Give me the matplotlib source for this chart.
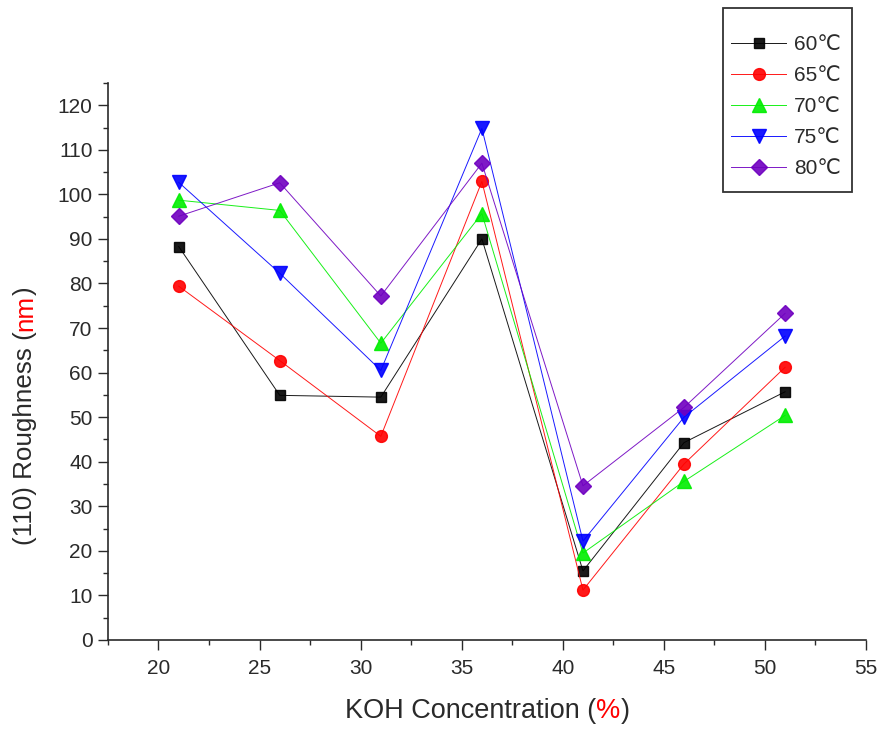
import matplotlib
matplotlib.use('Agg')
import matplotlib.pyplot as plt
from matplotlib.ticker import MultipleLocator
from matplotlib.patches import Rectangle

plt.rcParams['font.family'] = ['Liberation Sans', 'DejaVu Sans', 'Noto Sans CJK SC']

# data
koh = [21, 26, 31, 36, 41, 46, 51]
r60 = [88.3, 54.9, 54.5, 90.0, 15.5, 44.3, 55.7]
r65 = [79.4, 62.7, 45.7, 102.9, 11.2, 39.5, 61.2]
r70 = [98.7, 96.4, 66.6, 95.7, 19.5, 35.6, 50.4]
r75 = [102.7, 82.3, 60.5, 114.8, 22.2, 50.0, 68.2]
r80 = [95.1, 102.6, 77.2, 107.0, 34.6, 52.2, 73.3]
labels = ['60℃', '65℃', '70℃', '75℃', '80℃']

series = [r60, r65, r70, r75, r80]
colors = ['black', 'red', '#00ee00', 'blue', '#7000c0']
markers = ['s', 'o', '^', 'v', 'D']
msizes = [7, 8.5, 9.5, 9.5, 8]

fig = plt.figure(figsize=(8.82, 7.31), dpi=100)
ax = fig.add_axes([0.1224, 0.1245, 0.8594, 0.762])

for vals, c, m, ms, lab in zip(series, colors, markers, msizes, labels):
    ax.plot(koh, vals, color=c, lw=0.7, alpha=0.9, marker=m, ms=ms,
            mfc=c, mec=c, label=lab)

ax.set_xlim(17.5, 55)
ax.set_ylim(0, 125)
ax.xaxis.set_major_locator(MultipleLocator(5))
ax.xaxis.set_minor_locator(MultipleLocator(2.5))
ax.yaxis.set_major_locator(MultipleLocator(10))
ax.yaxis.set_minor_locator(MultipleLocator(5))
ax.set_yticks(range(0, 121, 10))
ax.tick_params(which='major', length=7, width=1, labelsize=15, colors='#2a2a2a')
ax.tick_params(which='minor', length=3.5, width=1, colors='#2a2a2a')
ax.tick_params(axis='x', pad=7)
ax.tick_params(axis='y', pad=4)
ax.spines['top'].set_visible(False)
ax.spines['right'].set_visible(False)
for s in ['left', 'bottom']:
    ax.spines[s].set_linewidth(1.2)
    ax.spines[s].set_color('#2a2a2a')

# axis labels with a red unit part
t1 = fig.text(0.391, 0.018, 'KOH Concentration (', fontsize=19.5, color='#2a2a2a',
              ha='left', va='baseline')
t2 = ax.annotate('%', xy=(1, 0), xycoords=t1, fontsize=19.5, color='red',
                 ha='left', va='bottom')
ax.annotate(')', xy=(1, 0), xycoords=t2, fontsize=19.5, color='#2a2a2a',
            ha='left', va='bottom')

y1 = fig.text(0.0285, 0.2544, '(110) Roughness (', fontsize=18.7, color='#2a2a2a',
              rotation=90, ha='center', va='bottom')
y2 = ax.annotate('nm', xy=(0.5, 1), xycoords=y1, fontsize=18.7, color='red',
                 rotation=90, ha='center', va='bottom')
ax.annotate(')', xy=(0.5, 1), xycoords=y2, fontsize=18.7, color='#2a2a2a',
            rotation=90, ha='center', va='bottom')

# legend box sits above the axes, like the original
leg = fig.legend(loc='upper left', bbox_to_anchor=(0.829, 0.952),
                 fontsize=15, frameon=False, borderpad=0, borderaxespad=0,
                 handlelength=2.65, labelspacing=0.58, handletextpad=0.35)
for t in leg.get_texts():
    t.set_color('#2a2a2a')
fig.patches.append(Rectangle((723 / 882, 1 - 192 / 731), 129 / 882, 184 / 731,
                             transform=fig.transFigure, fill=False,
                             edgecolor='#333333', lw=1.3))

fig.savefig('out.png', dpi=100)
